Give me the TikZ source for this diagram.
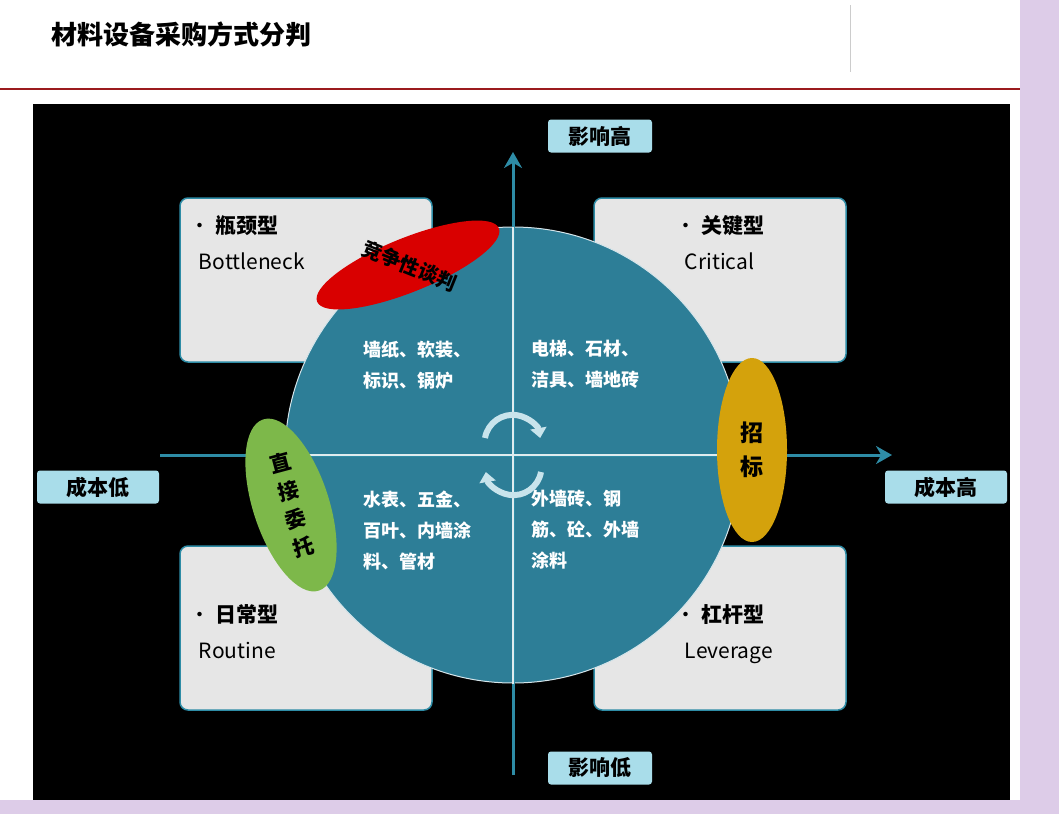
\documentclass[tikz,border=0pt]{standalone}
\usepackage{fontspec}
\setmainfont{Noto Sans CJK SC}
\usetikzlibrary{arrows.meta}
\definecolor{teal1}{HTML}{2D7E97}
\definecolor{axis}{HTML}{2E8CA6}
\definecolor{lbl}{HTML}{A9DDEA}
\definecolor{boxg}{HTML}{E6E6E6}
\definecolor{lav}{HTML}{DDCCE8}
\definecolor{dred}{HTML}{9B1B1E}
\definecolor{grn}{HTML}{7DB84A}
\definecolor{gold}{HTML}{D4A20C}
\definecolor{arr}{HTML}{C8E4EC}
\tikzset{
  quad/.style={draw=axis,line width=1.5pt,fill=boxg,rounded corners=8pt},
  ax/.style={draw=axis,line width=3pt,-{Stealth[length=16pt,width=18pt]}},
  lab/.style={fill=lbl,rounded corners=3pt,minimum width=104pt,minimum height=33pt,font=\bfseries\fontsize{21}{23}\selectfont,inner sep=0pt},
  ctext/.style={text=white,font=\bfseries\fontsize{18}{31}\selectfont,align=left,anchor=north west},
  qtext/.style={font=\fontsize{21}{36}\selectfont,align=left,anchor=north west},
  rot/.style={arr,line width=6pt,-{Triangle[length=10pt,width=16pt]}},
}
\begin{document}
\begin{tikzpicture}[x=1pt,y=-1pt]
\useasboundingbox (0,0) rectangle (1059,814);
\fill[white] (0,0) rectangle (1059,814);
\fill[lav] (1020,0) rectangle (1059,814);
\fill[lav] (0,800) rectangle (1059,814);
\node[anchor=west,font=\bfseries\fontsize{26}{28}\selectfont] (title) at (48,35) {材料设备采购方式分判};
\draw[gray!40,line width=1pt] (850,5) -- (850,72);
\draw[dred,line width=2.5pt] (0,89) -- (1020,89);
\fill[black] (33,104) rectangle (1010,800);
% boxes
\node[quad,minimum width=252pt,minimum height=164pt] (tl) at (306,280) {};
\node[quad,minimum width=252pt,minimum height=164pt] (tr) at (720,280) {};
\node[quad,minimum width=252pt,minimum height=164pt] (bl) at (306,628) {};
\node[quad,minimum width=252pt,minimum height=164pt] (br) at (720,628) {};
\node[qtext] at (186,212) {• \textbf{瓶颈型}\\\ \ Bottleneck};
\node[qtext] at (672,212) {• \textbf{关键型}\\\ \ Critical};
\node[qtext] at (186,601) {• \textbf{日常型}\\\ \ Routine};
\node[qtext] at (672,601) {• \textbf{杠杆型}\\\ \ Leverage};
% circle
\node[circle,fill=teal1,draw=white!80!teal1,line width=1pt,minimum size=456pt,inner sep=0pt] (c) at (513,455) {};
% axes
\coordinate (vb) at (513,775); \coordinate (vt) at (513,152);
\coordinate (hl) at (160,455); \coordinate (hr) at (892,455);
\draw[ax] (vb) -- (vt);
\draw[ax] (hl) -- (hr);
\draw[white!85!teal1,line width=2pt] (c.north) -- (c.south) (c.west) -- (c.east);
\node[lab] (hi) at (600,136) {影响高};
\node[lab] (lo) at (600,768) {影响低};
\node[lab,minimum width=122pt] (cl) at (98,487) {成本低};
\node[lab,minimum width=122pt] (ch) at (946,487) {成本高};
% circle texts
\node[ctext] at (360,337) {墙纸、软装、\\标识、锅炉};
\node[ctext] at (528,337) {电梯、石材、\\洁具、墙地砖};
\node[ctext] at (360,487) {水表、五金、\\百叶、内墙涂\\料、管材};
\node[ctext] at (528,487) {外墙砖、钢\\筋、砼、外墙\\涂料};
% rotating arrows
\draw[rot] (485,438) arc (190:350:28);
\draw[rot] (541,472) arc (10:170:28);
% ellipses
\fill[red!85!black,rotate around={22:(408,265)}] (408,265) ellipse (98 and 27);
\node[rotate=-22,text=black,font=\bfseries\fontsize{20}{22}\selectfont] (neg) at (410,266) {竞争性谈判};
\fill[grn,rotate around={18:(291,505)}] (291,505) ellipse (38 and 90);
\node[align=center,font=\bfseries\fontsize{21}{29}\selectfont,rotate=15] (dir) at (292,505) {直\\接\\委\\托};
\fill[gold] (752,450) ellipse (35 and 92);
\node[align=center,font=\bfseries\fontsize{23}{34}\selectfont] (bid) at (752,450) {招\\标};
\end{tikzpicture}
\end{document}
